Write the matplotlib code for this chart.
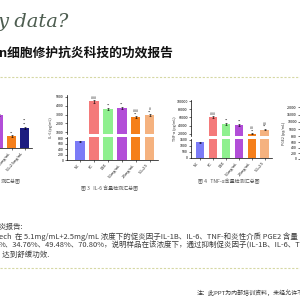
import matplotlib.pyplot as plt

plt.rcParams['font.family'] = ['Noto Sans CJK SC', 'DejaVu Sans']

# data
groups = ['NC', 'PC', 'DEX', '5.1mg/mL', '2.5mg/mL', '5.1+2.5']
colors = ['#7b7bf7', '#f47a7a', '#8ff08f', '#b24ed8', '#f57f1a', '#f5b27f']

il6_vals = [700, 4500, 3600, 3700, 2700, 2900]
il6_err = [20, 150, 120, 120, 90, 110]
il6_sig = ['', '###', '**', '**', '###\n**', '#\n**']

tnf_vals = [1300, 62000, 44000, 42000, 20000, 30000]
tnf_err = [40, 2500, 1800, 1800, 1200, 1500]
tnf_sig = ['', '###', '**', '**', '##\n**', '##\n**']

il1b_groups = ['5.1mg/mL', '2.5mg/mL', '5.1+2.5mg/mL']
il1b_colors = ['#b24ed8', '#f57f1a', '#1c1c80']
il1b_vals = [420, 150, 260]
il1b_err = [15, 10, 12]
il1b_sig = ['', '**', '**\n**']

para = ['炎报告:',
        'ech  在 5.1mg/mL+2.5mg/mL 浓度下的促炎因子IL-1B、IL-6、TNF-和炎性介质 PGE2 含量',
        '%、34.76%、49.48%、70.80%，说明样品在该浓度下，通过抑制促炎因子(IL-1B、IL-6、TN',
        '  达到舒缓功效.']

W = H = 300.0
fig = plt.figure(figsize=(3, 3), dpi=100)


def box(x0, y0, x1, y1):
    # pixel box (y from top) -> figure fraction
    return [x0 / W, 1 - y1 / H, (x1 - x0) / W, (y1 - y0) / H]


def style(ax):
    for s in ['top', 'right']:
        ax.spines[s].set_visible(False)
    for s in ['left', 'bottom']:
        ax.spines[s].set_linewidth(0.5)
    ax.tick_params(labelsize=2.6, length=1.5, width=0.4, pad=0.8)


def panel(x0, x1, ytop, ybrk1, ybrk2, ybot, vals, err, sig, hi_lim, lo_lim,
          hi_ticks, lo_ticks, xlim, ylabel, labels, cols):
    hi = fig.add_axes(box(x0, ytop, x1, ybrk1))
    lo = fig.add_axes(box(x0, ybrk2, x1, ybot))
    xs = range(len(vals))
    for ax in (hi, lo):
        ax.bar(xs, vals, width=0.68, color=cols, yerr=err,
               error_kw=dict(elinewidth=0.4, capsize=0.8, capthick=0.4))
        ax.set_xlim(*xlim)
        style(ax)
    hi.set_ylim(*hi_lim)
    lo.set_ylim(*lo_lim)
    hi.set_yticks(hi_ticks)
    lo.set_yticks(lo_ticks)
    hi.spines['bottom'].set_visible(False)
    hi.set_xticks([])
    lo.set_xticks(list(xs))
    lo.set_xticklabels(labels, rotation=50, ha='right', fontsize=2.6)
    for i, s in enumerate(sig):
        if s:
            top = vals[i] + err[i]
            ax = hi if top > hi_lim[0] else lo
            ax.text(i, top, s, ha='center', va='bottom', fontsize=2.6,
                    color='#333333', linespacing=0.8)
    fig.text((x0 - 16) / W, 1 - (ytop + ybot) / 2 / H, ylabel, rotation=90,
             ha='center', va='center', fontsize=2.6, color='#333333')
    return hi, lo


# header
fig.text(-2 / W, 1 - 27 / H, 'y data?', family='DejaVu Serif', style='italic',
         fontsize=14, color='#4d5d50', va='baseline')
fig.text(-1 / W, 1 - 53 / H, 'n细胞修护抗炎科技的功效报告', fontsize=9.2,
         fontweight='bold', color='#111111', va='center')
fig.add_artist(plt.Line2D([0, 1], [1 - 77 / H] * 2, color='#d6d8a4',
                          lw=0.8, ls=(0, (2, 1.5))))

# left partial panel
ax1 = fig.add_axes(box(-9.3, 112, 31.7, 148))
ax1.bar(range(3), il1b_vals, width=0.68, color=il1b_colors, yerr=il1b_err,
        error_kw=dict(elinewidth=0.4, capsize=0.8, capthick=0.4))
ax1.set_xlim(-0.6, 2.55)
ax1.set_ylim(0, 460)
style(ax1)
ax1.spines['left'].set_visible(False)
ax1.set_yticks([])
ax1.set_xticks(range(3))
ax1.set_xticklabels(il1b_groups, rotation=50, ha='right', fontsize=2.6)
for i, s in enumerate(il1b_sig):
    if s:
        ax1.text(i, il1b_vals[i] + il1b_err[i], s, ha='center', va='bottom',
                 fontsize=2.6, color='#333333', linespacing=0.8)

# IL-6 panel
panel(67, 158, 95, 134, 137, 160, il6_vals, il6_err, il6_sig,
      (800, 5200), (0, 850), [1000, 2000, 3000, 4000, 5000],
      [0, 200, 400, 600, 800], (-0.95, 5.6), 'IL-6 (pg/mL)', groups, colors)

# TNF-a panel
panel(191, 272, 100, 136, 139, 158, tnf_vals, tnf_err, tnf_sig,
      (15000, 102500), (0, 1580), [20000, 40000, 60000, 80000, 100000],
      [0, 500, 1000, 1500], (-0.7, 5.55), 'TNF-α (pg/mL)', groups, colors)

# PGE2 panel, only its axis edge is inside the crop
pg_hi = fig.add_axes(box(300, 106, 390, 132))
pg_lo = fig.add_axes(box(300, 135, 390, 159))
pg_hi.set_ylim(3000, 21000)
pg_hi.set_yticks([5000, 10000, 15000, 20000])
pg_lo.set_ylim(0, 850)
pg_lo.set_yticks([0, 200, 400, 600, 800])
for ax in (pg_hi, pg_lo):
    style(ax)
    ax.spines['bottom'].set_visible(False)
    ax.set_xticks([])
fig.text(284 / W, 1 - 133 / H, 'PGE2 (pg/mL)', rotation=90, ha='center',
         va='center', fontsize=2.6, color='#333333')

# captions
fig.text(1 / W, 1 - 181 / H, '测汇总图', fontsize=3.6, color='#555555',
         va='center')
fig.text(110 / W, 1 - 189 / H, '图 3   IL-6 含量检测汇总图', fontsize=3.6,
         color='#555555', ha='center', va='center')
fig.text(198 / W, 1 - 182 / H, '图 4   TNF-α含量检测汇总图', fontsize=3.6,
         color='#555555', va='center')

# paragraph
for line, y in zip(para, [227, 237, 246, 255]):
    fig.text(-1 / W, 1 - y / H, line, fontsize=5.4, color='#3a3a3a',
             va='center')
fig.add_artist(plt.Line2D([0, 1], [1 - 268 / H] * 2, color='#d6d8a4',
                          lw=0.8, ls=(0, (2, 1.5))))
fig.text(197 / W, 1 - 293 / H, '注：此PPT为内部培训资料，未经允许不得', fontsize=4.3,
         color='#333333', va='center')

fig.savefig('out.png', dpi=100)
